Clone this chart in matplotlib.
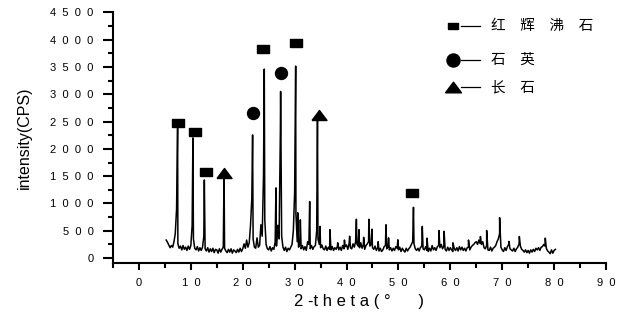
import numpy as np
import matplotlib.pyplot as plt
from matplotlib.path import Path
from matplotlib.lines import Line2D

# background counts, 0.25 deg step starting at 5.25
bg = [330, 290, 240,
      190, 230, 200, 300,
      450, 900, 260, 180,
      220, 150, 230, 160,
      200, 140, 220, 160,
      230, 600, 350, 180,
      150, 210, 130, 190,
      140, 200, 400, 170,
      130, 190, 110, 170,
      120, 180, 100, 160,
      150, 90, 170, 110,
      160, 200, 180, 130,
      100, 160, 110, 170,
      90, 150, 130, 100,
      160, 110, 180, 120,
      170, 260, 180, 330,
      200, 280, 600, 1100,
      350, 200, 180, 370,
      200, 230, 610, 400,
      1500, 700, 250, 170,
      150, 210, 130, 190,
      160, 300, 220, 600,
      350, 2300, 400, 200,
      140, 200, 120, 180,
      150, 200, 250, 500,
      1200, 800, 300, 200,
      250, 170, 230, 150,
      210, 140, 300, 250,
      170, 230, 160, 210,
      230, 500, 350, 250,
      190, 240, 170, 150,
      220, 140, 200, 160,
      150, 210, 140, 190,
      160, 220, 150, 200,
      140, 230, 170, 210,
      240, 160, 270, 190,
      170, 260, 200, 300,
      260, 220, 190, 280,
      180, 250, 160, 230,
      260, 300, 220, 250,
      190, 160, 220, 140,
      190, 130, 180, 120,
      150, 210, 230, 170,
      210, 150, 190, 130,
      180, 140, 210, 180,
      150, 200, 120, 180,
      140, 110, 180, 130,
      170, 200, 250, 300,
      260, 170, 140, 180,
      130, 200, 210, 170,
      150, 210, 140, 120,
      180, 130, 230, 150,
      190, 140, 210, 230,
      190, 250, 170, 220,
      160, 130, 200, 140,
      190, 150, 120, 180,
      140, 190, 130, 210,
      150, 200, 140, 180,
      130, 190, 200, 150,
      200, 230, 250, 280,
      300, 250, 330, 270,
      250, 300, 190, 170,
      230, 150, 140, 200,
      130, 180, 200, 230,
      300, 350, 450, 200,
      150, 120, 190, 140,
      210, 250, 170, 150,
      130, 180, 120, 170,
      200, 260, 220, 160,
      140, 110, 150, 100,
      140, 90, 150, 110,
      160, 120, 180, 150,
      190, 140, 200, 210,
      250, 220, 180, 130,
      110, 80, 150, 90,
      140, 160]

peak_pos = [7.45, 10.4, 12.6, 16.4, 21.9, 24.15, 26.4, 27.3, 30.2, 30.6, 31.1,
            32.9, 34.4, 34.9, 36.8, 38.3, 39.6, 40.6, 41.9, 42.4, 43.3, 44.3,
            44.9, 46.1, 47.6, 48.1, 49.9, 52.9, 54.6, 55.5, 57.8, 58.8, 60.5,
            63.5, 65.8, 67.0, 69.5, 71.3, 73.3, 78.3]
peak_int = [2420, 2200, 1430, 1540, 2255, 3460, 1285, 3050, 3515, 830, 700,
            1035, 2530, 580, 520, 280, 330, 400, 710, 520, 380, 710,
            530, 300, 610, 370, 335, 930, 580, 365, 505, 490, 280,
            330, 395, 505, 740, 305, 395, 365]

# phase markers
heul_x = [7.6, 10.8, 12.95, 24.0, 30.35, 52.7]
heul_y = [2480, 2315, 1585, 3830, 3945, 1200]
quartz_x = [21.95, 27.35]
quartz_y = [2650, 3395]
feld_x = [16.4, 34.75]
feld_y = [1565, 2620]

legend_labels = ['红\u3000辉\u3000沸\u3000石', '石\u3000英', '长\u3000石']

theta = 5.25 + 0.25 * np.arange(len(bg))
x = np.concatenate([theta, peak_pos])
y = np.concatenate([bg, peak_int])
order = np.argsort(x, kind='stable')
x = x[order]
y = y[order]

rect = Path([(-1.5, -1), (1.5, -1), (1.5, 1), (-1.5, 1), (-1.5, -1)])
tri = Path([(-1.5, -1), (1.5, -1), (0, 1), (-1.5, -1)])

plt.rcParams['font.family'] = ['Liberation Sans', 'DejaVu Sans']

fig = plt.figure(figsize=(6.21, 3.22), dpi=100)
ax = fig.add_axes([113 / 621, 59 / 322, 493 / 621, 250.7 / 322])

ax.plot(x, y, color='black', lw=1.1)
ax.plot(heul_x, heul_y, ls='none', marker=rect, ms=8.6, color='black')
ax.plot(quartz_x, quartz_y, ls='none', marker='o', ms=8.6, color='black')
ax.plot(feld_x, feld_y, ls='none', marker=tri, ms=10.8, color='black')

ax.set_xlim(-5, 90)
ax.set_ylim(-90, 4500)
ax.spines['top'].set_visible(False)
ax.spines['right'].set_visible(False)
ax.spines['left'].set_linewidth(1.5)
ax.spines['bottom'].set_linewidth(1.5)

xt = np.arange(0, 91, 10)
ax.set_xticks(xt)
ax.set_xticklabels(['  '.join(str(v)) for v in xt], fontsize=8)
ax.set_xticks(np.arange(-5, 91, 5), minor=True)
yt = np.arange(0, 4501, 500)
ax.set_yticks(yt)
ax.set_yticklabels(['  '.join(str(v)) for v in yt], fontsize=8)
ax.set_yticks(np.arange(0, 4501, 250), minor=True)
ax.tick_params(axis='x', which='major', length=5, width=1.5, pad=6)
ax.tick_params(axis='x', which='minor', length=3.5, width=1.5)
ax.tick_params(axis='y', which='major', length=7, width=1.5, pad=7)
ax.tick_params(axis='y', which='minor', length=3.5, width=1.5)

ax.set_xlabel('2 -t h e t a ( °      )', fontsize=12, labelpad=4)
ax.set_ylabel('intensity(CPS)', fontsize=11.5, labelpad=13)

# legend drawn by hand
rows_y = [1 - 26 / 322, 1 - 60 / 322, 1 - 87 / 322]
markers = [(rect, 7.2), ('o', 9.4), (tri, 11.5)]
for (m, s), yy, lab in zip(markers, rows_y, legend_labels):
    fig.add_artist(Line2D([453 / 621], [yy], marker=m, ms=s, color='black', ls='none'))
    fig.add_artist(Line2D([461 / 621, 480 / 621], [yy, yy], color='black', lw=0.9))
    fig.text(491 / 621, yy, lab, fontsize=10.5, va='center', ha='left',
             family=['Noto Sans CJK SC', 'DejaVu Sans'])

fig.savefig('out.png', dpi=100)
